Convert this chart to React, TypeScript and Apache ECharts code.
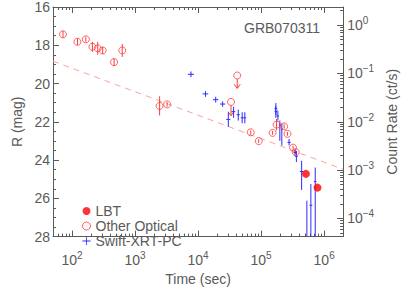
import React, { useEffect, useRef } from 'react';
import * as echarts from 'echarts';

// Other optical detections: time (s), R mag, error
const optT = [72, 122, 166, 211, 256, 307, 465, 627, 2455, 3230, 68500, 91600, 152000, 176000, 231700, 262000, 320800, 354000];
const optMag = [17.43, 17.82, 17.69, 18.08, 18.16, 18.27, 18.88, 18.27, 21.17, 21.09, 22.55, 23.01, 22.58, 22.15, 22.24, 22.63, 23.35, 23.59];
const optErr = [0.18, 0.16, 0.13, 0.26, 0.34, 0.18, 0.2, 0.34, 0.5, 0.12, 0.1, 0.1, 0.1, 0.3, 0.12, 0.1, 0.1, 0.1];

// Optical upper limits
const ulT = [33300, 41800];
const ulMag = [20.96, 19.58];
const ulArrow = [0.72, 0.67];

// LBT detections
const lbtT = [514000, 785000];
const lbtMag = [24.72, 25.44];

// Swift XRT PC count rates
const swiftT = [7710, 13100, 19050, 24550, 30200, 36600, 43400, 50100, 55200, 171400, 171400, 184500, 198200, 213200, 277500, 345000, 363000, 439500, 532000, 615700, 721700];
const swiftTLo = [6900, 11800, 17200, 22300, 28000, 34000, 41000, 47500, 52500, 163000, 163000, 176000, 191000, 206000, 262000, 326000, 343000, 412000, 505000, 585000, 690000];
const swiftTHi = [8600, 14500, 21000, 27000, 32500, 39000, 46000, 52700, 58000, 180000, 180000, 193000, 206000, 220000, 294000, 365000, 384000, 468000, 560000, 648000, 755000];
const swiftRate = [0.0961, 0.0378, 0.0287, 0.0233, 0.0112, 0.0162, 0.014, 0.0121, 0.0121, 0.0187, 0.0162, 0.0132, 0.00851, 0.00713, 0.00374, 0.00231, 0.00194, 0.000936, 0.00002, 0.000187, 0.000578];
const swiftRateLo = [0.084, 0.033, 0.025, 0.0205, 0.00779, 0.0121, 0.0106, 0.00929, 0.00929, 0.0138, 0.0121, 0.0106, 0.00403, 0.00324, 0.00324, 0.002, 0.00147, 0.000389, 0.000001, 0.000001, 0.000001];
const swiftRateHi = [0.11, 0.043, 0.033, 0.0265, 0.0157, 0.0204, 0.0179, 0.0157, 0.0157, 0.0244, 0.0213, 0.0171, 0.0106, 0.00929, 0.0044, 0.00272, 0.00249, 0.00156, 0.000233, 0.000513, 0.00113];

// Power-law fit (dashed)
const fitT = [50, 2000000];
const fitMag = [18.83, 24.48];

// Axis ticks
const xMajor = [1e2, 1e3, 1e4, 1e5, 1e6];
const xMin = 50;
const xMax = 2e6;
const yMajor = [1e-4, 1e-3, 1e-2, 1e-1, 1];
const rMin = 4.2e-5;
const rMax = 2.38;

function logMinors(lo: number, hi: number, d0: number, d1: number) {
  const out: number[] = [];
  for (let d = d0; d <= d1; d++) {
    for (let k = 2; k <= 9; k++) {
      const v = k * Math.pow(10, d);
      if (v > lo * 1.0001 && v < hi * 0.9999) out.push(v);
    }
  }
  return out;
}
const xMinor = logMinors(xMin, xMax, 1, 6);
const yMinor = logMinors(rMin, rMax, -5, 0);

const GRAY = '#5a5a5a';
const RED = '#ff3b3b';
const BLUE = '#2b2bff';
const FONT = '"Liberation Sans", Arial, sans-serif';

const supFmt = (v: number) => {
  const e = Math.round(Math.log10(v));
  const s = e < 0 ? '\u2212' + String(-e) : String(e);
  return '{b|10}{s|' + s + '}';
};
const rich = {
  b: { fontSize: 14, color: GRAY, fontFamily: FONT },
  s: { fontSize: 10, color: GRAY, fontFamily: FONT, padding: [0, 0, 9, 0] },
};

export default function App() {
  const ref = useRef<HTMLDivElement>(null);
  useEffect(() => {
    const chart = echarts.init(ref.current!, null, { renderer: 'svg' });
    const lineStyle = { color: GRAY, width: 1 };
    const baseX: any = {
      type: 'log', logBase: 10, min: xMin, max: xMax, gridIndex: 0,
      splitLine: { show: false }, axisLabel: { show: false }, axisLine: { show: false }, axisTick: { show: false },
    };
    const baseYR: any = {
      type: 'log', logBase: 10, min: rMin, max: rMax, gridIndex: 0,
      splitLine: { show: false }, axisLabel: { show: false }, axisLine: { show: false }, axisTick: { show: false },
    };
    const option: any = {
      animation: false,
      textStyle: { fontFamily: FONT },
      grid: { left: 53, top: 4, width: 293, height: 250, containLabel: false },
      title: {
        text: 'GRB070311', left: 244, top: 21, padding: 0,
        textStyle: { fontSize: 14, fontWeight: 'normal', color: GRAY, fontFamily: FONT },
      },
      legend: {
        orient: 'vertical', left: 82, top: 204, padding: 0, itemWidth: 8, itemHeight: 8, itemGap: 1,
        textStyle: { fontSize: 14, color: GRAY, fontFamily: FONT },
        data: [
          { name: 'LBT', icon: 'circle', itemStyle: { color: '#ff0000', borderWidth: 0 } },
          { name: 'Other Optical', icon: 'circle', itemStyle: { color: '#ffffff', borderColor: RED, borderWidth: 1 } },
          { name: 'Swift-XRT-PC', icon: 'path://M0,4.5h10v1h-10z M4.5,0h1v10h-1z', itemStyle: { color: BLUE, borderWidth: 0 } },
        ],
      },
      xAxis: [
        {
          ...baseX, position: 'bottom',
          axisLine: { show: true, lineStyle },
          axisTick: { show: true, inside: true, length: 6, customValues: xMajor, lineStyle },
          axisLabel: { show: true, customValues: xMajor, formatter: supFmt, rich, margin: 14 },
          name: 'Time (sec)', nameLocation: 'middle', nameGap: 33,
          nameTextStyle: { fontSize: 14, color: GRAY, fontFamily: FONT },
        },
        { ...baseX, position: 'bottom', axisTick: { show: true, inside: true, length: 3, customValues: xMinor, lineStyle } },
        {
          ...baseX, position: 'top',
          axisLine: { show: true, lineStyle },
          axisTick: { show: true, inside: true, length: 6, customValues: xMajor, lineStyle },
        },
        { ...baseX, position: 'top', axisTick: { show: true, inside: true, length: 3, customValues: xMinor, lineStyle } },
      ],
      yAxis: [
        {
          type: 'value', inverse: true, min: 16, max: 28, interval: 2, position: 'left', gridIndex: 0,
          axisLine: { show: true, lineStyle },
          axisTick: { show: true, inside: true, length: 6, lineStyle },
          minorTick: { show: true, splitNumber: 4, length: 3, lineStyle },
          splitLine: { show: false },
          axisLabel: { fontSize: 14, color: GRAY, margin: 3, fontFamily: FONT },
          name: 'R (mag)', nameLocation: 'middle', nameGap: 22, nameRotate: 90,
          nameTextStyle: { fontSize: 14, color: GRAY, fontFamily: FONT },
        },
        {
          ...baseYR, position: 'right',
          axisLine: { show: true, lineStyle },
          axisTick: { show: true, inside: true, length: 6, customValues: yMajor, lineStyle },
          axisLabel: { show: true, customValues: yMajor, formatter: supFmt, rich, margin: 4 },
          name: 'Count Rate (ct/s)', nameLocation: 'middle', nameGap: 40, nameRotate: 90,
          nameTextStyle: { fontSize: 14, color: GRAY, fontFamily: FONT },
        },
        { ...baseYR, position: 'right', axisTick: { show: true, inside: true, length: 3, customValues: yMinor, lineStyle } },
      ],
      series: [
        {
          name: 'fit', type: 'line', xAxisIndex: 0, yAxisIndex: 0, silent: true, z: 1,
          data: fitT.map((t, i) => [t, fitMag[i]]), symbol: 'none',
          lineStyle: { color: '#ffa0a0', width: 1, type: [6, 5] },
        },
        {
          name: 'optErr', type: 'custom', xAxisIndex: 0, yAxisIndex: 0, clip: true, silent: true,
          data: optT.map((t, i) => [t, optMag[i] - optErr[i], optMag[i] + optErr[i]]),
          encode: { x: 0, y: [1, 2] },
          renderItem: (_p: any, api: any) => {
            const a = api.coord([api.value(0), api.value(1)]);
            const b = api.coord([api.value(0), api.value(2)]);
            return { type: 'line', shape: { x1: a[0], y1: a[1], x2: b[0], y2: b[1] }, style: { stroke: RED, lineWidth: 1 } };
          },
        },
        {
          name: 'ulArrow', type: 'custom', xAxisIndex: 0, yAxisIndex: 0, clip: true, silent: true,
          data: ulT.map((t, i) => [t, ulMag[i], ulMag[i] + ulArrow[i]]),
          encode: { x: 0, y: [1, 2] },
          renderItem: (_p: any, api: any) => {
            const a = api.coord([api.value(0), api.value(1)]);
            const b = api.coord([api.value(0), api.value(2)]);
            return {
              type: 'group',
              children: [
                { type: 'line', shape: { x1: a[0], y1: a[1] + 3.5, x2: b[0], y2: b[1] }, style: { stroke: RED, lineWidth: 1 } },
                { type: 'polyline', shape: { points: [[b[0] - 3, b[1] - 4], [b[0], b[1]], [b[0] + 3, b[1] - 4]] }, style: { stroke: RED, lineWidth: 1, fill: 'none' } },
              ],
            };
          },
        },
        {
          name: 'Other Optical', type: 'scatter', xAxisIndex: 0, yAxisIndex: 0,
          data: optT.map((t, i) => [t, optMag[i]]).concat(ulT.map((t, i) => [t, ulMag[i]])),
          symbol: 'circle', symbolSize: 7,
          itemStyle: { color: 'rgba(255,255,255,0)', borderColor: RED, borderWidth: 1 },
        },
        {
          name: 'LBT', type: 'scatter', xAxisIndex: 0, yAxisIndex: 0,
          data: lbtT.map((t, i) => [t, lbtMag[i]]),
          symbol: 'circle', symbolSize: 8, itemStyle: { color: '#ff0000' },
        },
        {
          name: 'Swift-XRT-PC', type: 'custom', xAxisIndex: 0, yAxisIndex: 1, clip: true,
          itemStyle: { color: BLUE },
          data: swiftT.map((t, i) => [t, swiftTLo[i], swiftTHi[i], swiftRate[i], swiftRateLo[i], swiftRateHi[i]]),
          encode: { x: [0, 1, 2], y: [3, 4, 5] },
          renderItem: (_p: any, api: any) => {
            const c = api.coord([api.value(0), api.value(3)]);
            const xl = api.coord([api.value(1), api.value(3)]);
            const xh = api.coord([api.value(2), api.value(3)]);
            const yl = api.coord([api.value(0), api.value(4)]);
            const yh = api.coord([api.value(0), api.value(5)]);
            const st = { stroke: BLUE, lineWidth: 1 };
            return {
              type: 'group',
              children: [
                { type: 'line', shape: { x1: xl[0], y1: c[1], x2: xh[0], y2: c[1] }, style: st },
                { type: 'line', shape: { x1: c[0], y1: yh[1], x2: c[0], y2: yl[1] }, style: st },
              ],
            };
          },
        },
      ],
    };
    chart.setOption(option);
    return () => chart.dispose();
  }, []);
  return <div ref={ref} style={{ position: 'absolute', left: 0, top: 0, width: 407, height: 291 }} />;
}
